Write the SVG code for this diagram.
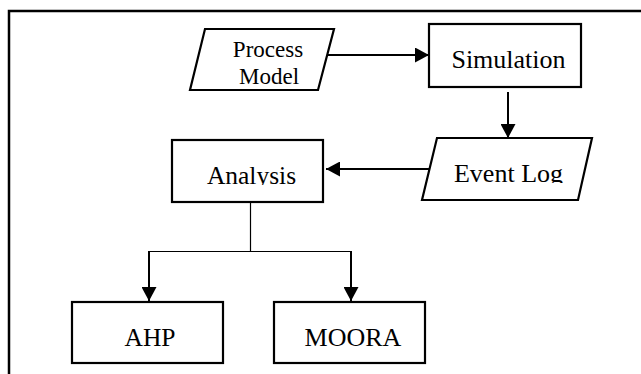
<svg xmlns="http://www.w3.org/2000/svg" width="641" height="374" viewBox="0 0 641 374">
  <defs>
    <style>
      .shape { fill: #ffffff; stroke: #000000; stroke-width: 2.2; }
      .lbl { font-family: "Liberation Serif", "Times New Roman", serif; fill: #000000; text-anchor: middle; }
      .thick { fill: none; stroke: #000000; stroke-width: 2; }
      .thin { fill: none; stroke: #000000; stroke-width: 1.2; }
    </style>
    <marker id="arrow" markerUnits="userSpaceOnUse" markerWidth="14" markerHeight="15" refX="14" refY="7.5" orient="auto">
      <path d="M0,0 L14,7.5 L0,15 Z" fill="#000000"/>
    </marker>
    <clipPath id="clipEvent"><rect x="400" y="130" width="220" height="53"/></clipPath>
    <clipPath id="clipAnalysis"><rect x="160" y="130" width="180" height="55"/></clipPath>
  </defs>
  <rect x="0" y="0" width="641" height="374" fill="#ffffff"/>
  <path d="M9,374 V11 H641" fill="none" stroke="#000000" stroke-width="2.5"/>

  <g id="connectors">
    <path class="thick" d="M325,55 H429" marker-end="url(#arrow)"/>
    <path class="thick" d="M508,92 V138" marker-end="url(#arrow)"/>
    <path class="thick" d="M429,169 H326" marker-end="url(#arrow)"/>
    <path class="thin" d="M250.5,202 V251.5"/>
    <path class="thin" d="M149,251.5 H351"/>
    <path class="thick" d="M149,251 V301" marker-end="url(#arrow)"/>
    <path class="thick" d="M351,251 V301" marker-end="url(#arrow)"/>
  </g>

  <g id="process-model">
    <polygon class="shape" points="205,29 334,29 318,90 190,90"/>
    <text class="lbl" x="268" y="57" font-size="23">Process</text>
    <text class="lbl" x="269" y="84" font-size="23">Model</text>
  </g>

  <g id="simulation">
    <rect class="shape" x="429" y="24" width="152" height="63"/>
    <text class="lbl" x="508.5" y="68" font-size="26">Simulation</text>
  </g>

  <g id="event-log">
    <polygon class="shape" points="437,138 592,138 578,200 422,200"/>
    <text class="lbl" x="508.5" y="182" font-size="26" clip-path="url(#clipEvent)">Event Log</text>
  </g>

  <g id="analysis">
    <rect class="shape" x="172" y="140" width="151" height="62"/>
    <text class="lbl" x="251.5" y="184" font-size="25.5" clip-path="url(#clipAnalysis)">Analysis</text>
  </g>

  <g id="ahp">
    <rect class="shape" x="72" y="302" width="151" height="61"/>
    <text class="lbl" x="150" y="346" font-size="25.5">AHP</text>
  </g>

  <g id="moora">
    <rect class="shape" x="274" y="302" width="151" height="61"/>
    <text class="lbl" x="353" y="346" font-size="26">MOORA</text>
  </g>
</svg>
